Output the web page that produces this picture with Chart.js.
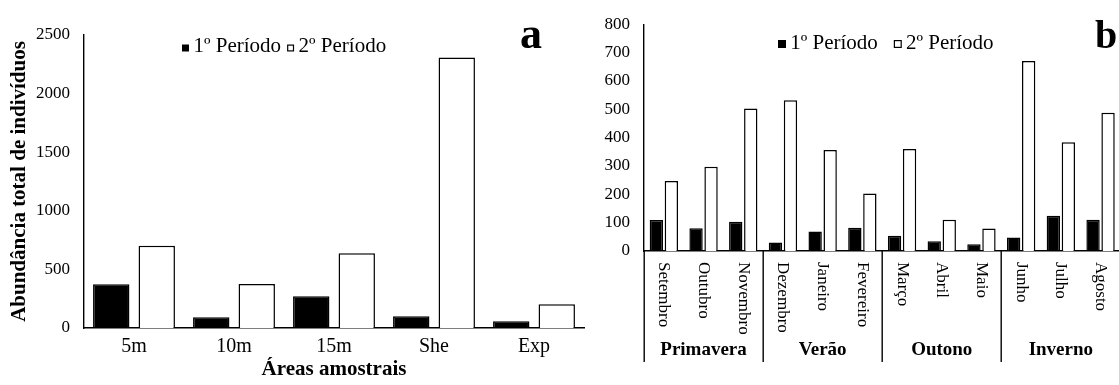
<!DOCTYPE html>
<html>
<head>
<meta charset="utf-8">
<script src="https://cdn.jsdelivr.net/npm/chart.js@4/dist/chart.umd.min.js"></script>
<style>
  html, body { margin: 0; padding: 0; background: #fff; }
  #wrap { position: relative; width: 1119px; height: 385px; overflow: hidden; background: #fff; }
  #chartA { position: absolute; left: 0; top: 0; }
  #chartB { position: absolute; left: 560px; top: 0; }
</style>
</head>
<body>
<div id="wrap">
  <canvas id="chartA" width="590" height="385"></canvas>
  <canvas id="chartB" width="600" height="385"></canvas>
</div>
<script>
// ---- Panel a: total abundance per sampling area ----
const areas = ['5m', '10m', '15m', 'She', 'Exp'];
const areaPeriodo1 = [374, 92, 270, 101, 58];
const areaPeriodo2 = [702, 375, 637, 2309, 202];
const areaTicks = [0, 500, 1000, 1500, 2000, 2500];

// ---- Panel b: abundance per month, grouped by season ----
const meses = ['Setembro', 'Outubro', 'Novembro', 'Dezembro', 'Janeiro', 'Fevereiro',
               'Março', 'Abril', 'Maio', 'Junho', 'Julho', 'Agosto'];
const estacoes = ['Primavera', 'Verão', 'Outono', 'Inverno'];
const mesPeriodo1 = [109, 80, 103, 30, 69, 82, 54, 34, 24, 48, 124, 110];
const mesPeriodo2 = [247, 297, 503, 532, 356, 203, 360, 110, 79, 670, 384, 488];
const mesTicks = [0, 100, 200, 300, 400, 500, 600, 700, 800];

const periodos = ['1º Período', '2º Período'];

const SERIF = "'Liberation Serif', 'Times New Roman', serif";
Chart.defaults.font.family = SERIF;
Chart.defaults.color = '#000';

// Legend row with small squares, drawn inside the plot
const squareLegend = {
  id: 'squareLegend',
  afterDraw(chart, args, o) {
    const ctx = chart.ctx;
    ctx.save();
    ctx.font = o.size + 'px ' + SERIF;
    ctx.textBaseline = 'alphabetic';
    ctx.textAlign = 'left';
    let x = o.x;
    chart.data.datasets.forEach(ds => {
      const s = o.box;
      const top = o.y - s - o.lift;
      ctx.fillStyle = '#000';
      ctx.fillRect(x, top, s, s);
      if (ds.backgroundColor !== '#000') {
        ctx.fillStyle = ds.backgroundColor;
        ctx.fillRect(x + 1.2, top + 1.2, s - 2.4, s - 2.4);
      }
      ctx.fillStyle = '#000';
      ctx.fillText(ds.label, x + o.textGap, o.y);
      x += o.textGap + ctx.measureText(ds.label).width + o.itemGap;
    });
    ctx.restore();
  }
};

// Bold panel letter in the top-right corner
const panelLetter = {
  id: 'panelLetter',
  afterDraw(chart, args, o) {
    const ctx = chart.ctx;
    ctx.save();
    ctx.font = 'bold ' + o.size + 'px ' + SERIF;
    ctx.fillStyle = '#000';
    ctx.textAlign = 'center';
    ctx.textBaseline = 'alphabetic';
    ctx.fillText(o.text, o.x, o.y);
    ctx.restore();
  }
};

// Month names read top-to-bottom, season names and dividers under the axis
const seasonAxis = {
  id: 'seasonAxis',
  afterDraw(chart, args, o) {
    const ctx = chart.ctx;
    const xs = chart.scales.x;
    ctx.save();
    ctx.fillStyle = '#000';
    ctx.font = o.monthSize + 'px ' + SERIF;
    ctx.textAlign = 'left';
    ctx.textBaseline = 'middle';
    meses.forEach((m, i) => {
      const x = xs.getPixelForTick(i);
      ctx.save();
      ctx.translate(x, o.monthTop);
      ctx.rotate(Math.PI / 2);
      ctx.fillText(m, 0, 0);
      ctx.restore();
    });
    const per = meses.length / estacoes.length;
    const step = xs.width / meses.length;
    ctx.font = 'bold ' + o.seasonSize + 'px ' + SERIF;
    ctx.textAlign = 'center';
    estacoes.forEach((s, k) => {
      const x0 = xs.left + k * per * step;
      ctx.fillText(s, x0 + per * step / 2, o.seasonY);
    });
    ctx.strokeStyle = '#000';
    ctx.lineWidth = 1.4;
    for (let k = 0; k <= estacoes.length; k++) {
      const x = Math.round(xs.left + k * per * step) + 0.2;
      ctx.beginPath();
      ctx.moveTo(x, xs.top);
      ctx.lineTo(x, o.lineBottom);
      ctx.stroke();
    }
    ctx.restore();
  }
};

function barSets(v1, v2) {
  return [
    { label: periodos[0], data: v1, backgroundColor: '#000', borderColor: '#000', borderWidth: 1.5 },
    { label: periodos[1], data: v2, backgroundColor: '#fff', borderColor: '#000', borderWidth: 1.5 }
  ];
}

const plainNumber = v => String(v);

// Panel a
new Chart(document.getElementById('chartA'), {
  type: 'bar',
  data: { labels: areas, datasets: barSets(areaPeriodo1, areaPeriodo2) },
  options: {
    responsive: false,
    animation: false,
    devicePixelRatio: 1,
    layout: { padding: { left: 0, right: 6, top: 35, bottom: 0 } },
    datasets: { bar: { categoryPercentage: 0.91, barPercentage: 0.8 } },
    plugins: {
      legend: { display: false },
      tooltip: { enabled: false },
      squareLegend: { x: 182, y: 52, size: 21, box: 7, lift: 0.5, textGap: 11.5, itemGap: 6 },
      panelLetter: { text: 'a', x: 531, y: 48, size: 44 }
    },
    scales: {
      x: {
        grid: { display: false, drawTicks: false },
        border: { display: true, color: '#000', width: 1.4 },
        ticks: { font: { family: SERIF, size: 20, lineHeight: 1 }, padding: 8.5, color: '#000' },
        title: { display: true, text: 'Áreas amostrais', font: { family: SERIF, size: 21, weight: 'bold', lineHeight: 1 },
                 padding: { top: 0, bottom: 4.5 }, color: '#000' },
        afterFit(s) { s.height = 57; }
      },
      y: {
        min: 0, max: areaTicks[areaTicks.length - 1],
        afterBuildTicks(s) { s.ticks = areaTicks.map(v => ({ value: v })); },
        grid: { display: false, drawTicks: false },
        border: { display: true, color: '#000', width: 1.4 },
        ticks: { font: { family: SERIF, size: 17 }, padding: 14, color: '#000', callback: plainNumber },
        title: { display: true, text: 'Abundância total de indivíduos',
                 font: { family: SERIF, size: 21, weight: 'bold', lineHeight: 1 }, padding: { top: 9.5, bottom: 0 }, color: '#000' },
        afterFit(s) { s.width = 84; }
      }
    }
  },
  plugins: [squareLegend, panelLetter]
});

// Panel b
new Chart(document.getElementById('chartB'), {
  type: 'bar',
  data: { labels: meses, datasets: barSets(mesPeriodo1, mesPeriodo2) },
  options: {
    responsive: false,
    animation: false,
    devicePixelRatio: 1,
    layout: { padding: { left: 0, right: 39.6, top: 19, bottom: 0 } },
    datasets: { bar: { categoryPercentage: 0.756, barPercentage: 0.89 } },
    plugins: {
      legend: { display: false },
      tooltip: { enabled: false },
      squareLegend: { x: 218, y: 48.5, size: 21, box: 8, lift: 0.5, textGap: 12.2, itemGap: 16 },
      panelLetter: { text: 'b', x: 546, y: 48, size: 40 },
      seasonAxis: { monthSize: 17, monthTop: 262, seasonSize: 19, seasonY: 350, lineBottom: 362 }
    },
    scales: {
      x: {
        grid: { display: false, drawTicks: false },
        border: { display: true, color: '#000', width: 1.4 },
        ticks: { display: false },
        afterFit(s) { s.height = 134; }
      },
      y: {
        min: 0, max: mesTicks[mesTicks.length - 1],
        afterBuildTicks(s) { s.ticks = mesTicks.map(v => ({ value: v })); },
        grid: { display: false, drawTicks: false },
        border: { display: true, color: '#000', width: 1.4 },
        ticks: { font: { family: SERIF, size: 17 }, padding: 14, color: '#000', callback: plainNumber },
        afterFit(s) { s.width = 84; }
      }
    }
  },
  plugins: [squareLegend, panelLetter, seasonAxis]
});
</script>
</body>
</html>
